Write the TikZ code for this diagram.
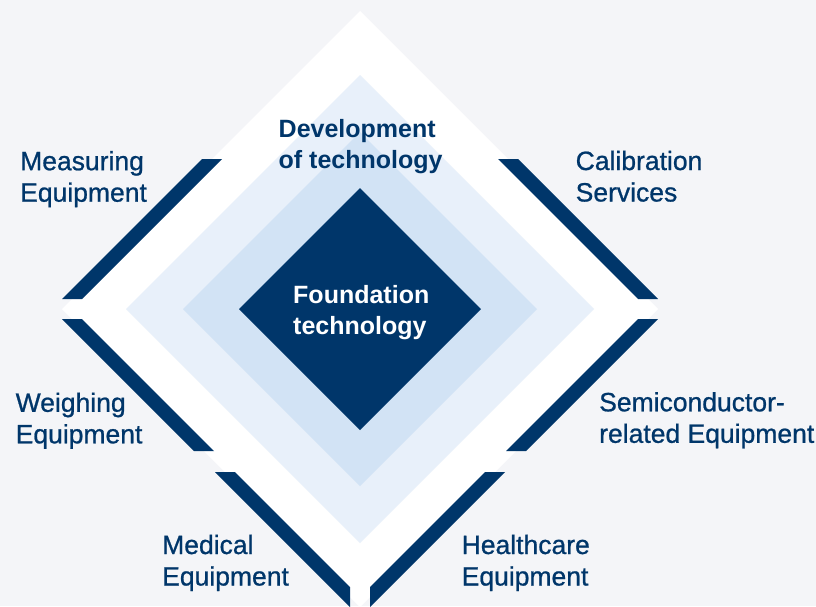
\documentclass[tikz,border=0pt]{standalone}
\usepackage{fontspec}
\setmainfont{Liberation Sans}
\newfontfamily\lblfont[FakeBold=0.8]{Liberation Sans}
\definecolor{bgc}{HTML}{F4F5F8}
\definecolor{navy}{HTML}{00366A}
\definecolor{lightb}{HTML}{E8F0FA}
\definecolor{midb}{HTML}{D2E3F5}
\tikzset{
  band/.style={fill=navy, draw=none},
  lbl/.style={anchor=base west, inner sep=0pt, align=left, text=navy,
    font=\lblfont\fontsize{26.5}{31.5}\selectfont},
  blbl/.style={anchor=base west, inner sep=0pt, align=left,
    font=\bfseries\fontsize{25}{31}\selectfont},
}
\begin{document}
\begin{tikzpicture}[x=1pt,y=-1pt]
\useasboundingbox (0,0) rectangle (816,606);
\fill[bgc] (0,0) rectangle (816,606);
% diamonds
\fill[white]  (360,11) -- (658,309) -- (360,607) -- (62,309) -- cycle;
\fill[lightb] (360,75) -- (594,309) -- (360,543) -- (126,309) -- cycle;
\fill[midb]   (360,132) -- (537,309) -- (360,486) -- (183,309) -- cycle;
\fill[navy]   (360,188) -- (481,309) -- (360,430) -- (239,309) -- cycle;
% bands
\fill[band] (202,159) -- (222,159) -- (82,299) -- (62,299) -- cycle;
\fill[band] (62,319) -- (82,319) -- (214,451) -- (194,451) -- cycle;
\fill[band] (215,472) -- (235,472) -- (350,587) -- (350,607) -- cycle;
\fill[band] (498,159) -- (518,159) -- (658,299) -- (638,299) -- cycle;
\fill[band] (638,319) -- (658,319) -- (526,451) -- (506,451) -- cycle;
\fill[band] (485,472) -- (505,472) -- (370,607) -- (370,587) -- cycle;
% labels (anchor = baseline of last line)
\node[lbl] (meas) at (20,201.7) {Measuring\\Equipment};
\node[lbl] (weigh) at (15.5,443.3) {Weighing\\Equipment};
\node[lbl] (med) at (162,585.5) {Medical\\Equipment};
\node[lbl] (calib) at (575.5,201.5) {Calibration\\Services};
\node[lbl] (semi) at (599,442.8) {Semiconductor-\\related Equipment};
\node[lbl] (health) at (461.5,585.5) {Healthcare\\Equipment};
\node[blbl, text=navy] (dev) at (278.5,168.5) {Development\\of technology};
\node[blbl, text=white] (found) at (293,334.5) {Foundation\\technology};
\end{tikzpicture}
\end{document}
